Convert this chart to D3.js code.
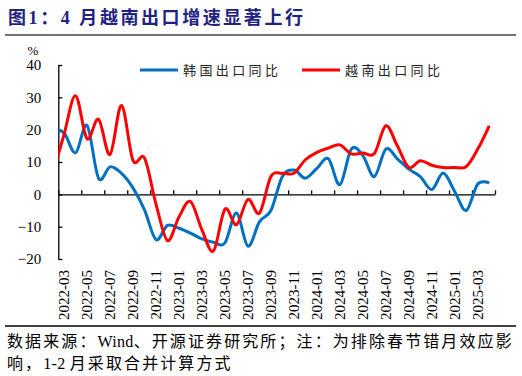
<!DOCTYPE html>
<html>
<head>
<meta charset="utf-8">
<script src="https://cdn.jsdelivr.net/npm/d3@7"></script>
<style>
  body { margin: 0; background: #fff; }
  svg { display: block; }
</style>
</head>
<body>
<svg id="svg"></svg>
<script>
// months; 2022-02 sits just left of the plot and is clipped (only its tail shows)
const months = [
  "2022-02", "2022-03", "2022-04", "2022-05", "2022-06", "2022-07", "2022-08", "2022-09",
  "2022-10", "2022-11", "2022-12", "2023-01", "2023-02", "2023-03", "2023-04", "2023-05",
  "2023-06", "2023-07", "2023-08", "2023-09", "2023-10", "2023-11", "2023-12", "2024-01",
  "2024-02", "2024-03", "2024-04", "2024-05", "2024-06", "2024-07", "2024-08", "2024-09",
  "2024-10", "2024-11", "2024-12", "2025-01", "2025-02", "2025-03", "2025-04"
];

const korea = [
  19.5, 19, 12.8, 21.3, 5, 8.5, 6.5, 2,
  -4.8, -14, -9.6, -10.5, -12, -13.8, -14.8, -15,
  -5.8, -16, -8.5, -5, 5.5, 7.5, 5, 8,
  11, 3, 14, 12, 5.5, 14, 11, 7.8,
  5.5, 1.5, 6.6, 0.8, -5, 3.2, 3.5
];

const vietnam = [
  6, 18.5, 30.5, 17.2, 23.2, 12.3, 27.5, 10.5,
  11.2, -3, -14.3, -7, -2.2, -11, -17.5, -4.6,
  -9.4, -1.6, -5.8, 5.5, 6.5, 6.5, 10.7, 13,
  14.3, 15.3, 12.5, 12.8, 12.6, 21.2, 15, 8.3,
  10.4, 9, 8.3, 8.3, 8.6, 14, 21.2
];

const yTicks = [40, 30, 20, 10, 0, -10, -20];
const seriesNames = ["韩国出口同比", "越南出口同比"];
const colors = ["#0070C0", "#FF0000"];

const title = "图1：4 月越南出口增速显著上行";
const note1 = "数据来源：Wind、开源证券研究所；注：为排除春节错月效应影";
const note2 = "响，1-2 月采取合并计算方式";

const width = 522;
const height = 376;

const svg = d3.select('#svg')
  .attr('width', width)
  .attr('height', height);

const serif = "'Liberation Serif', 'Times New Roman', serif";
const cjk = "'Liberation Serif', 'Noto Sans CJK SC', sans-serif";

// title + rules
svg.append('text')
  .attr('x', 8)
  .attr('y', 24)
  .attr('textLength', 295)
  .attr('lengthAdjust', 'spacing')
  .style('font-family', cjk)
  .style('font-weight', 'bold')
  .style('font-size', '18px')
  .style('fill', '#1f2280')
  .text(title);

svg.append('line')
  .attr('x1', 5).attr('x2', 516)
  .attr('y1', 35).attr('y2', 35)
  .attr('stroke', '#444').attr('stroke-width', 1.5);

svg.append('line')
  .attr('x1', 5).attr('x2', 516)
  .attr('y1', 326).attr('y2', 326)
  .attr('stroke', '#000').attr('stroke-width', 1.5);

// scales
const x = d3.scaleLinear()
  .domain([0.5, months.length - 0.5])
  .range([58.3, 495]);

const y = d3.scaleLinear()
  .domain([-20, 40])
  .range([259, 65]);

// y axis
const yAxis = svg.append('g')
  .attr('transform', 'translate(' + x.range()[0] + ',0)')
  .call(d3.axisLeft(y)
    .tickValues(yTicks)
    .tickSizeInner(-4)
    .tickSizeOuter(0)
    .tickPadding(17)
    .tickFormat(d3.format('d')));

yAxis.select('.domain').attr('stroke', '#000').attr('stroke-width', 1.3);
yAxis.selectAll('.tick line').attr('stroke', '#000').attr('stroke-width', 1.3);
yAxis.selectAll('text')
  .style('font-family', serif)
  .style('font-size', '15px')
  .style('fill', '#000');

svg.append('text')
  .attr('x', 33)
  .attr('y', 55)
  .attr('text-anchor', 'middle')
  .style('font-family', serif)
  .style('font-size', '13px')
  .text('%');

// x axis at zero, ticks every 2 months pointing up
const boundaries = d3.range(0.5, months.length, 2);

const xAxis = svg.append('g')
  .attr('transform', 'translate(0,' + y(0) + ')')
  .call(d3.axisBottom(x)
    .tickValues(boundaries)
    .tickSizeInner(-4)
    .tickSizeOuter(0)
    .tickFormat(''));

xAxis.select('.domain').attr('stroke', '#000').attr('stroke-width', 1.3);
xAxis.selectAll('.tick line').attr('stroke', '#000').attr('stroke-width', 1.3);

// rotated month labels at bottom
const labelIdx = d3.range(1, months.length, 2);

svg.append('g')
  .selectAll('text')
  .data(labelIdx)
  .enter()
  .append('text')
  .attr('transform', (i) => 'translate(' + x(i) + ',270) rotate(-90)')
  .attr('text-anchor', 'end')
  .attr('dy', '0.35em')
  .style('font-family', serif)
  .style('font-size', '15px')
  .text((i) => months[i]);

// lines
svg.append('clipPath')
  .attr('id', 'plotclip')
  .append('rect')
  .attr('x', x.range()[0])
  .attr('y', 0)
  .attr('width', x.range()[1] - x.range()[0])
  .attr('height', height);

const line = d3.line()
  .x((d, i) => x(i))
  .y((d) => y(d))
  .curve(d3.curveCardinal);

[korea, vietnam].forEach((values, k) => {
  svg.append('path')
    .datum(values)
    .attr('clip-path', 'url(#plotclip)')
    .attr('fill', 'none')
    .attr('stroke', colors[k])
    .attr('stroke-width', 3)
    .attr('stroke-linejoin', 'round')
    .attr('d', line);
});

// legend
const legendX = [140, 302];

seriesNames.forEach((name, k) => {
  svg.append('line')
    .attr('x1', legendX[k]).attr('x2', legendX[k] + 38)
    .attr('y1', 70).attr('y2', 70)
    .attr('stroke', colors[k])
    .attr('stroke-width', 3);

  svg.append('text')
    .attr('x', legendX[k] + 43)
    .attr('y', 75)
    .attr('textLength', 95)
    .attr('lengthAdjust', 'spacing')
    .style('font-family', cjk)
    .style('font-size', '13px')
    .style('fill', '#222')
    .text(name);
});

// footer: spacing only between CJK glyphs, latin runs keep natural width
function footer(str, yPos) {
  const t = svg.append('text')
    .attr('x', 7)
    .attr('y', yPos)
    .style('font-family', cjk)
    .style('font-size', '16px');

  str.match(/[A-Za-z0-9\- ]+|[^A-Za-z0-9\- ]+/g).forEach((run) => {
    const latin = /^[A-Za-z0-9\- ]+$/.test(run);
    t.append('tspan')
      .style('letter-spacing', latin ? '0.3px' : '2.1px')
      .text(run);
  });
}

footer(note1, 347);
footer(note2, 369);
</script>
</body>
</html>
